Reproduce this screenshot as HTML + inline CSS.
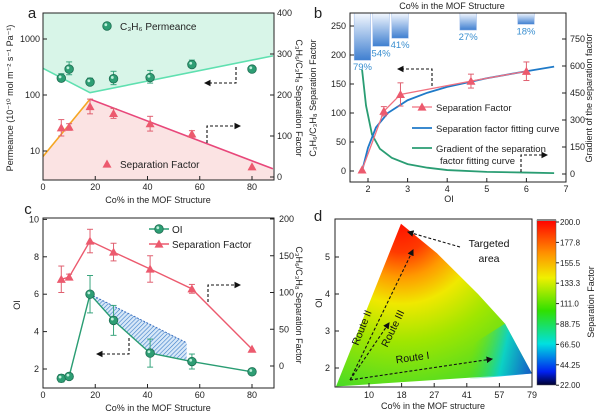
<!DOCTYPE html>
<html><head><meta charset="utf-8">
<style>
body{margin:0;background:#fff}
svg{display:block;font-family:"Liberation Sans",sans-serif}
</style></head>
<body>
<svg id="fig" width="600" height="417" viewBox="0 0 600 417" xmlns="http://www.w3.org/2000/svg">
<defs>
<linearGradient id="barg" x1="0" y1="0" x2="0" y2="1"><stop offset="0" stop-color="#f4f8ff"/><stop offset="1" stop-color="#3f7fd0"/></linearGradient>
<radialGradient id="heat" gradientUnits="userSpaceOnUse" cx="401" cy="224" r="190">
<stop offset="0" stop-color="#ff1200"/><stop offset="0.15" stop-color="#ff3a00"/><stop offset="0.28" stop-color="#ff9a00"/><stop offset="0.42" stop-color="#f0e800"/><stop offset="0.62" stop-color="#a0e600"/><stop offset="1" stop-color="#30d830"/></radialGradient>
<linearGradient id="blueC" gradientUnits="userSpaceOnUse" x1="470" y1="360" x2="532" y2="374"><stop offset="0" stop-color="#40e040" stop-opacity="0"/><stop offset="0.5" stop-color="#00d0e0"/><stop offset="1" stop-color="#1040e0"/></linearGradient>
<linearGradient id="cbar" x1="0" y1="0" x2="0" y2="1"><stop offset="0" stop-color="#ff0000"/><stop offset="0.2" stop-color="#ff9000"/><stop offset="0.35" stop-color="#f0f000"/><stop offset="0.55" stop-color="#30e000"/><stop offset="0.75" stop-color="#00e0e0"/><stop offset="0.92" stop-color="#0020f0"/><stop offset="1" stop-color="#000030"/></linearGradient>
<pattern id="hatch" width="3" height="3" patternUnits="userSpaceOnUse" patternTransform="rotate(45)"><rect width="3" height="3" fill="#d8e8f8"/><line x1="0" y1="0" x2="0" y2="3" stroke="#3a7cc8" stroke-width="1.2"/></pattern>
<marker id="ah" markerWidth="6" markerHeight="6" refX="5" refY="3" orient="auto"><path d="M0,0 L6,3 L0,6 z" fill="#111"/></marker>
</defs>
<g id="root"></g>
</svg>
<script>
// ---- Panel a data ----
const aCo = [7,10,18,27,41,57,80];
const aPerm = [200,290,170,195,205,350,290];
const aPermErr = [40,100,30,70,70,70,0];
const aSF = [120,122,172,155,130,105,25];
const aSFErr = [20,8,18,12,18,8,0];
const aPermLineX = [0,18,88];
const aPermLineY = [300,110,500];
const aSFLineX1 = [0,18];
const aSFLineY1 = [50,190];
const aSFLineX2 = [18,88];
const aSFLineY2 = [190,20];
const aLogTicks = [10,100,1000];
const aRTicks = [0,100,200,300,400];
const aXTicks = [0,20,40,60,80];
// ---- Panel b data ----
const bOI = [1.85,2.4,2.82,4.6,6];
const bSF = [2,103,132,155,172];
const bSFErr = [0,8,20,12,16];
const bFitX = [1.85,2.0,2.2,2.5,3,3.5,4,5,6,6.7];
const bFitY = [0,40,75,100,122,135,145,160,172,180];
const bGradX = [1.85,1.95,2.1,2.3,2.6,3,3.5,4,5,6,6.7];
const bGradY = [580,380,220,140,90,55,35,22,12,8,5];
const bBarOI = [1.86,2.33,2.81,4.53,5.99];
const bBarVal = [191,215,229,243,253];
const bBarLbl = ["79%","54%","41%","27%","18%"];
const bLTicks = [0,50,100,150,200,250];
const bRTicks = [0,150,300,450,600,750];
const bXTicks = [2,3,4,5,6,7];
// ---- Panel c data ----
const cCo = [7,10,18,27,41,57,80];
const cOI = [1.5,1.6,6,4.6,2.85,2.4,1.85];
const cOIErr = [0.2,0.1,1.0,0.8,0.75,0.4,0];
const cSF = [118,121,170,155,132,105,23];
const cSFErr = [18,4,16,12,18,6,0];
const cLTicks = [2,4,6,8,10];
const cRTicks = [0,50,100,150,200];
// ---- Panel d data ----
const dCats = ["10","18","27","41","57","79"];
const dYTicks = [2,3,4,5];
const dCbLabels = ["200.0","177.8","155.5","133.3","111.0","88.75","66.50","44.25","22.00"];

const NS="http://www.w3.org/2000/svg";
const root=document.getElementById('root');
function mk(tag,attrs,parent){const e=document.createElementNS(NS,tag);for(const k in attrs)e.setAttribute(k,attrs[k]);(parent||root).appendChild(e);return e;}
function txt(x,y,s,size,anchor,parent,rot,fill){const e=mk('text',{x:x,y:y,'font-size':size,'text-anchor':anchor||'middle',fill:fill||'#222'},parent);if(rot)e.setAttribute('transform','rotate('+rot+' '+x+' '+y+')');e.textContent=s;return e;}
function tri(x,y,r,fill,parent){return mk('path',{d:`M${x},${y-r} L${x+r},${y+r*0.8} L${x-r},${y+r*0.8} Z`,fill:fill},parent);}
function circ(x,y,fill,parent){const g=mk('circle',{cx:x,cy:y,r:4.3,fill:fill,stroke:'#1d6e52','stroke-width':0.8},parent);mk('circle',{cx:x-1.2,cy:y-1.3,r:1.4,fill:'#bff0db'},parent);return g;}
function errbar(x,y1,y2,col,parent){mk('line',{x1:x,y1:y1,x2:x,y2:y2,stroke:col,'stroke-width':1},parent);mk('line',{x1:x-3,y1:y1,x2:x+3,y2:y1,stroke:col},parent);mk('line',{x1:x-3,y1:y2,x2:x+3,y2:y2,stroke:col},parent);}
function dashArrow(pts,parent){mk('polyline',{points:pts.map(p=>p.join(',')).join(' '),fill:'none',stroke:'#111','stroke-width':1.1,'stroke-dasharray':'3,2','marker-end':'url(#ah)'},parent);}

// ================= Panel a =================
const pa=mk('g',{});


const ax=v=>43+v*(209/80), ayL=v=>151-(Math.log10(v)-1)*56, ayR=v=>177-v*0.41;
const aL=43,aRgt=274,aT=13,aB=180;
const permPts=aPermLineX.map((x,i)=>[ax(x),ayL(aPermLineY[i])]);
const permFill=mk('polygon',{points:[[aL,aT],...permPts,[aRgt,aT]].map(p=>p.join(',')).join(' '),fill:'#d8f5e8'},pa);


const sfPts2=aSFLineX2.map((x,i)=>[ax(x),ayR(aSFLineY2[i])]);
const sfPts1=aSFLineX1.map((x,i)=>[ax(x),ayR(aSFLineY1[i])]);
const sfFill=mk('polygon',{points:[[aL,aB],...sfPts1,...sfPts2,[aRgt,aB]].map(p=>p.join(',')).join(' '),fill:'#fbe3e3'},pa);


const pl=mk('polyline',{points:permPts.map(p=>p.join(',')).join(' '),fill:'none',stroke:'#5fe0b0','stroke-width':1.6},pa);


const ol=mk('polyline',{points:sfPts1.map(p=>p.join(',')).join(' '),fill:'none',stroke:'#f5a623','stroke-width':1.6},pa);


const rl=mk('polyline',{points:sfPts2.map(p=>p.join(',')).join(' '),fill:'none',stroke:'#e8477a','stroke-width':1.6},pa);


aCo.forEach((c,i)=>{
  if(aPermErr[i])errbar(ax(c),ayL(aPerm[i]+aPermErr[i]),ayL(aPerm[i]-aPermErr[i]*0.6),'#3aa57e',pa);
  const m=circ(ax(c),ayL(aPerm[i]),'#2e9e74',pa);
  
  
  if(aSFErr[i])errbar(ax(c),ayR(aSF[i]+aSFErr[i]),ayR(aSF[i]-aSFErr[i]),'#e06070',pa);
  const t=tri(ax(c),ayR(aSF[i]),4.5,'#ec5a6e',pa);
  
  
});
mk('rect',{x:aL,y:aT,width:aRgt-aL,height:aB-aT,fill:'none',stroke:'#222','stroke-width':1},pa);
aLogTicks.forEach(v=>{mk('line',{x1:aL,y1:ayL(v),x2:aL+4,y2:ayL(v),stroke:'#222'},pa);txt(aL-3,ayL(v)+3,String(v),9,'end',pa);});
aRTicks.forEach(v=>{mk('line',{x1:aRgt,y1:ayR(v),x2:aRgt-4,y2:ayR(v),stroke:'#222'},pa);txt(aRgt+3,ayR(v)+3,String(v),9,'start',pa);});
aXTicks.forEach(v=>{mk('line',{x1:ax(v),y1:aB,x2:ax(v),y2:aB-4,stroke:'#222'},pa);txt(ax(v),aB+10,String(v),9,'middle',pa);});
txt(158,203,'Co% in the MOF Structure',9,'middle',pa);
txt(13,98,'Permeance (10⁻¹⁰ mol m⁻² s⁻¹ Pa⁻¹)',9,'middle',pa,-90);
txt(296,98,'C₃H₆/C₃H₈ Separation Factor',9,'middle',pa,90);
circ(107,26,'#2e9e74',pa);
txt(120,30,'C₃H₆ Permeance',10,'start',pa);
tri(107,164,4.5,'#ec5a6e',pa);
txt(120,168,'Separation Factor',10,'start',pa);
dashArrow([[236,67],[236,83],[205,83]],pa);
dashArrow([[207,143],[207,126],[240,126]],pa);
txt(32,18,'a',15,'middle',pa);

// ================= Panel b =================
const pb=mk('g',{});


const bx=v=>368+(v-2)*39.6, byL=v=>171-v*0.58, byR=v=>174-v*0.18;
const bL=350,bRg=566,bT=13,bB=182;
bBarOI.forEach((o,i)=>{
  const r=mk('rect',{x:bx(o)-8.3,y:bT,width:16.6,height:byL(bBarVal[i])-bT,fill:'url(#barg)',stroke:'#9ab8e8','stroke-width':0.5},pb);
  
  
  txt(bx(o),byL(bBarVal[i])+10,bBarLbl[i],9.5,'middle',pb,0,'#3a8fd0');
});
const gl=mk('polyline',{points:bGradX.map((x,i)=>bx(x)+','+byR(bGradY[i])).join(' '),fill:'none',stroke:'#2a9d73','stroke-width':1.8},pb);


const fl=mk('polyline',{points:bFitX.map((x,i)=>bx(x)+','+byL(bFitY[i])).join(' '),fill:'none',stroke:'#1f7ac8','stroke-width':1.8},pb);


const sl=mk('polyline',{points:bOI.map((x,i)=>bx(x)+','+byL(bSF[i])).join(' '),fill:'none',stroke:'#f07080','stroke-width':1.3},pb);


bOI.forEach((o,i)=>{
  if(bSFErr[i])errbar(bx(o),byL(bSF[i]+bSFErr[i]),byL(bSF[i]-bSFErr[i]),'#e06070',pb);
  const t=tri(bx(o),byL(bSF[i]),4.5,'#ec5a6e',pb);
  
  
});
mk('rect',{x:bL,y:bT,width:bRg-bL,height:bB-bT,fill:'none',stroke:'#222'},pb);
bLTicks.forEach(v=>{mk('line',{x1:bL,y1:byL(v),x2:bL+4,y2:byL(v),stroke:'#222'},pb);txt(bL-4,byL(v)+3,String(v),9,'end',pb);});
bRTicks.forEach(v=>{mk('line',{x1:bRg,y1:byR(v),x2:bRg-4,y2:byR(v),stroke:'#222'},pb);txt(bRg+4,byR(v)+3,String(v),9,'start',pb);});
bXTicks.forEach(v=>{mk('line',{x1:bx(v),y1:bB,x2:bx(v),y2:bB-4,stroke:'#222'},pb);txt(bx(v),bB+10,String(v),9,'middle',pb);});
txt(449,202,'OI',9,'middle',pb);
txt(452,9,'Co% in the MOF Structure',9,'middle',pb);
txt(316,98,'C₃H₆/C₃H₈ Separation Factor',9,'middle',pb,-90);
txt(592,98,'Gradient of the separation factor',9,'middle',pb,-90);
mk('line',{x1:412,y1:107,x2:432,y2:107,stroke:'#f07080','stroke-width':1.3},pb);
tri(422,107,4.5,'#ec5a6e',pb);
txt(436,111,'Separation Factor',9.5,'start',pb);
mk('line',{x1:412,y1:128,x2:432,y2:128,stroke:'#1f7ac8','stroke-width':1.8},pb);
txt(436,132,'Separation factor fitting curve',9.5,'start',pb);
mk('line',{x1:412,y1:148,x2:432,y2:148,stroke:'#2a9d73','stroke-width':1.8},pb);
txt(436,152,'Gradient of the separation',9.5,'start',pb);
txt(440,164,'factor fitting curve',9.5,'start',pb);
dashArrow([[432,86],[432,69],[398,69]],pb);
dashArrow([[521,172],[521,155],[547,155]],pb);
txt(318,18,'b',15,'middle',pb);

// ================= Panel c =================
const pc=mk('g',{});


const cx=v=>43+v*(209/80), cyL=v=>369-(v-2)*18.7, cyR=v=>366-v*0.735;
const cL=43,cRg=274,cT=218,cB=388;
const hatch=mk('polygon',{points:[[cx(18),cyL(6)],[cx(55),cyL(3.4)],[cx(55),cyL(2.45)],[cx(41),cyL(2.85)],[cx(27),cyL(4.6)]].map(p=>p.join(',')).join(' '),fill:'url(#hatch)'},pc);


mk('line',{x1:cx(18),y1:cyL(6),x2:cx(55),y2:cyL(3.4),stroke:'#3a6fc0','stroke-dasharray':'2,1.5'},pc);
const ci=mk('polyline',{points:cCo.map((c,i)=>cx(c)+','+cyL(cOI[i])).join(' '),fill:'none',stroke:'#2a9d73','stroke-width':1.4},pc);


const cs=mk('polyline',{points:cCo.map((c,i)=>cx(c)+','+cyR(cSF[i])).join(' '),fill:'none',stroke:'#ec5a6e','stroke-width':1.4},pc);


cCo.forEach((c,i)=>{
  if(cOIErr[i])errbar(cx(c),cyL(cOI[i]+cOIErr[i]),cyL(cOI[i]-cOIErr[i]),'#3aa57e',pc);
  const m=circ(cx(c),cyL(cOI[i]),'#2e9e74',pc);
  
  
  if(cSFErr[i])errbar(cx(c),cyR(cSF[i]+cSFErr[i]),cyR(cSF[i]-cSFErr[i]),'#e06070',pc);
  const t=tri(cx(c),cyR(cSF[i]),4.5,'#ec5a6e',pc);
  
  
});
mk('rect',{x:cL,y:cT,width:cRg-cL,height:cB-cT,fill:'none',stroke:'#222'},pc);
cLTicks.forEach(v=>{mk('line',{x1:cL,y1:cyL(v),x2:cL+4,y2:cyL(v),stroke:'#222'},pc);txt(cL-4,cyL(v)+3,String(v),9,'end',pc);});
cRTicks.forEach(v=>{mk('line',{x1:cRg,y1:cyR(v),x2:cRg-4,y2:cyR(v),stroke:'#222'},pc);txt(cRg+5,cyR(v)+3,String(v),9,'start',pc);});
aXTicks.forEach(v=>{mk('line',{x1:cx(v),y1:cB,x2:cx(v),y2:cB-4,stroke:'#222'},pc);txt(cx(v),cB+10,String(v),9,'middle',pc);});
txt(158,411,'Co% in the MOF Structure',9,'middle',pc);
txt(20,305,'OI',9,'middle',pc,-90);
txt(296,305,'C₃H₆/C₃H₈ Separation Factor',9,'middle',pc,90);
mk('line',{x1:149,y1:229,x2:169,y2:229,stroke:'#2a9d73','stroke-width':1.4},pc);
circ(159,229,'#2e9e74',pc);
txt(172,233,'OI',10,'start',pc);
mk('line',{x1:149,y1:244,x2:169,y2:244,stroke:'#ec5a6e','stroke-width':1.4},pc);
tri(159,244,4.5,'#ec5a6e',pc);
txt(172,248,'Separation Factor',10,'start',pc);
dashArrow([[129,338],[129,354],[97,354]],pc);
dashArrow([[208,302],[208,285],[240,285]],pc);
txt(28,214,'c',15,'middle',pc);

// ================= Panel d =================
const pd=mk('g',{});


const dx=i=>369+i*32.6, dy=v=>368-(v-2)*37;
const dL=335,dRg=532,dT=219,dB=387;
const triPts=[[336,dy(1.5)],[401,dy(5.9)],[437,dy(5.1)],[478,dy(4.0)],[505,dy(3.2)],[532,dy(1.85)]];
const hm=mk('polygon',{points:triPts.map(p=>p.join(',')).join(' '),fill:'url(#heat)'},pd);


mk('polygon',{points:[[470,dy(2.6)],[505,dy(3.2)],[532,dy(1.85)],[470,dy(1.7)]].map(p=>p.join(',')).join(' '),fill:'url(#blueC)',opacity:0.85},pd);
mk('rect',{x:dL,y:dT,width:dRg-dL,height:dB-dT,fill:'none',stroke:'#222'},pd);
dYTicks.forEach(v=>{mk('line',{x1:dL,y1:dy(v),x2:dL+4,y2:dy(v),stroke:'#222'},pd);txt(dL-5,dy(v)+3,String(v),9,'end',pd);});
dCats.forEach((c,i)=>{mk('line',{x1:dx(i),y1:dB,x2:dx(i),y2:dB-4,stroke:'#222'},pd);txt(dx(i),dB+11,c,9,'middle',pd);});
txt(433,409,'Co% in the MOF structure',9,'middle',pd);
txt(322,303,'OI',9,'middle',pd,-90);
dashArrow([[350,380],[389,323]],pd);
dashArrow([[350,380],[413,250]],pd);
dashArrow([[350,380],[492,359]],pd);
dashArrow([[460,247],[408,232]],pd);
txt(413,361,'Route I',10.5,'middle',pd,-8,'#111');
txt(365,329,'Route II',10.5,'middle',pd,-68,'#111');
txt(396,330,'Route III',10.5,'middle',pd,-64,'#111');
txt(489,247,'Targeted',10.5,'middle',pd,0,'#111');
txt(489,262,'area',10.5,'middle',pd,0,'#111');
const cb=mk('rect',{x:537,y:220,width:19,height:165,fill:'url(#cbar)',stroke:'#555','stroke-width':0.5},pd);


mk('rect',{x:537,y:219,width:19,height:2,fill:'#888'},pd);
dCbLabels.forEach((l,i)=>{const y=222+i*20.4;mk('line',{x1:556,y1:y,x2:559,y2:y,stroke:'#222'},pd);txt(560,y+3,l,8,'start',pd);});
txt(594,302,'Separation Factor',9,'middle',pd,-90);
txt(318,221,'d',15,'middle',pd);
</script>
</body></html>
